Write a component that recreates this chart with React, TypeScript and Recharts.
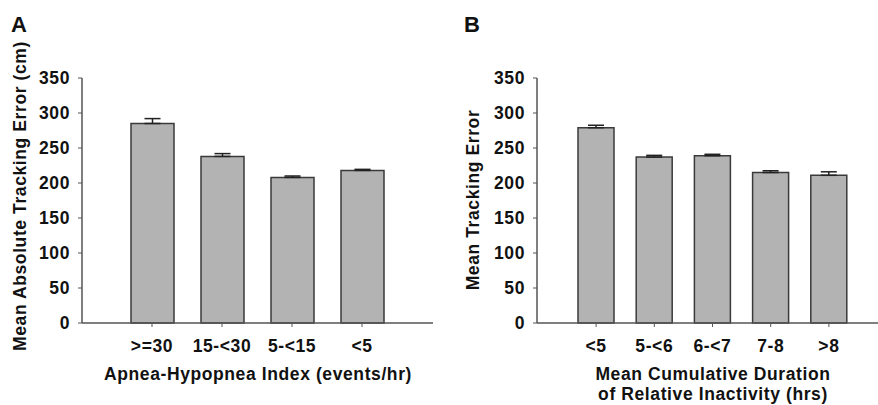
import React from 'react';
import { BarChart, Bar, XAxis, YAxis, ErrorBar } from 'recharts';

const ahiCategories = ['>=30', '15-<30', '5-<15', '<5'];
const ahiMeans = [285, 238, 208, 218];
const ahiErrors = [7, 4, 2, 1.5];

const inactCategories = ['<5', '5-<6', '6-<7', '7-8', '>8'];
const inactMeans = [279, 237, 239, 215, 211];
const inactErrors = [3.5, 2.5, 2, 2.5, 5];

const yTicks = [0, 50, 100, 150, 200, 250, 300, 350];

const dataA = ahiCategories.map((c, i) => ({ cat: c, value: ahiMeans[i], err: [0, ahiErrors[i]] }));
const dataB = inactCategories.map((c, i) => ({ cat: c, value: inactMeans[i], err: [0, inactErrors[i]] }));

const FONT = '"Liberation Sans", Arial, Helvetica, sans-serif';
const tickStyle = { fontSize: 17.5, fontWeight: 700, fill: '#111', fontFamily: FONT, letterSpacing: 0.6 };
const AXIS = '#555';
const BAR_FILL = '#b3b3b3';
const BAR_STROKE = '#3a3a3a';

function Panel({ data, yWidth, width, marginRight, padding, barSize }: any) {
  return (
    <BarChart
      width={width}
      height={405}
      data={data}
      margin={{ top: 78, right: marginRight, left: 0, bottom: 52 }}
    >
      <XAxis
        dataKey="cat"
        height={30}
        padding={padding}
        tick={tickStyle}
        tickSize={4}
        tickMargin={13}
        axisLine={{ stroke: AXIS, strokeWidth: 1.5 }}
        tickLine={{ stroke: AXIS, strokeWidth: 1 }}
        interval={0}
      />
      <XAxis xAxisId="top" orientation="top" dataKey="cat" height={0} tick={false} tickLine={false}
        axisLine={{ stroke: AXIS, strokeWidth: 1.5 }} />
      <YAxis
        width={yWidth}
        domain={[0, 350]}
        ticks={yTicks}
        tick={tickStyle}
        tickSize={4}
        tickMargin={8}
        axisLine={{ stroke: AXIS, strokeWidth: 1.5 }}
        tickLine={{ stroke: AXIS, strokeWidth: 1 }}
        interval={0}
      />
      <YAxis yAxisId="right" orientation="right" width={0} domain={[0, 350]} tick={false} tickLine={false}
        axisLine={{ stroke: AXIS, strokeWidth: 1.5 }} />
      <Bar dataKey="value" fill={BAR_FILL} stroke={BAR_STROKE} strokeWidth={1.5} barSize={barSize} isAnimationActive={false}>
        <ErrorBar dataKey="err" width={8} stroke="#222" strokeWidth={1.5} direction="y" />
      </Bar>
    </BarChart>
  );
}

export default function App() {
  const titleStyle: any = { fontFamily: FONT, fontWeight: 700, fontSize: 17.5, fill: '#111', letterSpacing: 0.6 };
  return (
    <div style={{ position: 'absolute', left: 0, top: 0, width: 878, height: 405, overflow: 'hidden', background: '#fff' }}>
      <div style={{ position: 'absolute', left: 0, top: 0 }}>
        <Panel data={dataA} yWidth={82} width={440} marginRight={7} padding={{ left: 35, right: 36 }} barSize={43} />
      </div>
      <div style={{ position: 'absolute', left: 440, top: 0 }}>
        <Panel data={dataB} yWidth={97} width={449} marginRight={0} padding={{ left: 30, right: 31 }} barSize={36} />
      </div>
      <svg width={878} height={405} style={{ position: 'absolute', left: 0, top: 0, pointerEvents: 'none' }}>
        <text x={11} y={32} style={{ fontFamily: FONT, fontWeight: 700, fontSize: 22, fill: '#111' }}>A</text>
        <text x={464} y={32} style={{ fontFamily: FONT, fontWeight: 700, fontSize: 22, fill: '#111' }}>B</text>
        <text x={25.5} y={196} textAnchor="middle" transform="rotate(-90 25.5 196)" style={titleStyle}>
          Mean Absolute Tracking Error (cm)
        </text>
        <text x={258} y={380} textAnchor="middle" style={titleStyle}>Apnea-Hypopnea Index (events/hr)</text>
        <text x={478.5} y={200} textAnchor="middle" transform="rotate(-90 478.5 200)" style={titleStyle}>
          Mean Tracking Error
        </text>
        <text x={713} y={380} textAnchor="middle" style={titleStyle}>Mean Cumulative Duration</text>
        <text x={713} y={400} textAnchor="middle" style={titleStyle}>of Relative Inactivity (hrs)</text>
      </svg>
    </div>
  );
}
